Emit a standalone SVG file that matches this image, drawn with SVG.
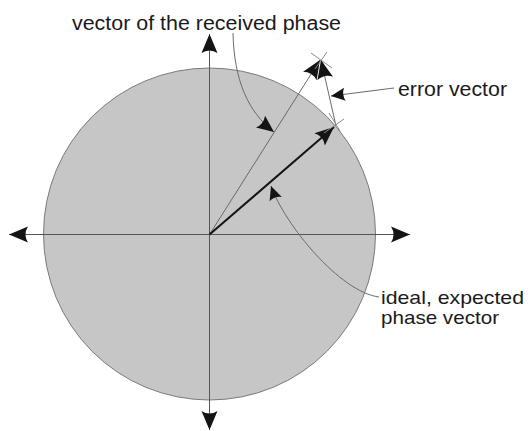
<svg xmlns="http://www.w3.org/2000/svg" width="528" height="431" viewBox="0 0 528 431">
<style>
.lbl{font-family:"Liberation Sans",Arial,sans-serif;font-size:20px;fill:#1a1a1a}
.lbl2{font-family:"Liberation Sans",Arial,sans-serif;font-size:19px;fill:#1a1a1a}
.axis{stroke:#555;stroke-width:1;fill:none}
.thin{stroke:#6a6a6a;stroke-width:1;fill:none}
.cross{stroke:#8a8a8a;stroke-width:1;fill:none}
</style>
<defs>
<marker id="ah" markerUnits="userSpaceOnUse" viewBox="-20 -10 22 20" markerWidth="22" markerHeight="20" refX="0" refY="0" orient="auto-start-reverse" overflow="visible">
<path d="M0,0 L-19,-8 Q-14,0 -19,8 Z" fill="#141414"/>
</marker>
<marker id="ahs" markerUnits="userSpaceOnUse" viewBox="-20 -10 22 20" markerWidth="22" markerHeight="20" refX="0" refY="0" orient="auto" overflow="visible">
<path d="M0,0 L-17,-7.5 Q-13,0 -17,7.5 Z" fill="#141414"/>
</marker>
<marker id="ahm" markerUnits="userSpaceOnUse" viewBox="-20 -10 22 20" markerWidth="22" markerHeight="20" refX="0" refY="0" orient="auto" overflow="visible">
<path d="M0,0 L-14,-6.5 Q-10.5,0 -14,6.5 Z" fill="#141414"/>
</marker>
</defs>
<g id="circle">
<circle cx="209.5" cy="234" r="166" fill="#c6c6c6" stroke="#7a7a7a" stroke-width="1"/>
</g>
<g id="connectors">
<line class="axis" x1="9" y1="234.5" x2="410" y2="234.5" marker-start="url(#ah)" marker-end="url(#ah)"/>
<line class="axis" x1="209.5" y1="34" x2="209.5" y2="430" marker-start="url(#ah)" marker-end="url(#ah)"/>
<line class="thin" x1="209.5" y1="234.5" x2="320" y2="60" marker-end="url(#ah)"/>
<line x1="209.5" y1="234.5" x2="334" y2="127" stroke="#141414" stroke-width="2" marker-end="url(#ah)"/>
<line class="thin" x1="336" y1="126" x2="321" y2="60" marker-end="url(#ah)"/>
<path class="thin" d="M233,33 C234,80 248,112 274,132" marker-end="url(#ahs)"/>
<path class="thin" d="M379,297 C340,292 285,225 271,186" marker-end="url(#ahm)"/>
<line class="thin" x1="394" y1="88" x2="331" y2="96" marker-end="url(#ahm)"/>
</g>
<g id="crosses">
<line class="cross" x1="311" y1="53" x2="332" y2="68"/>
<line class="cross" x1="327" y1="52" x2="315" y2="69"/>
<line class="cross" x1="329" y1="113" x2="340" y2="131"/>
<line class="cross" x1="344" y1="119" x2="324" y2="133"/>
</g>
<g id="label-received">
<text class="lbl" x="72" y="30" textLength="269" lengthAdjust="spacingAndGlyphs">vector of the received phase</text>
</g>
<g id="label-error">
<text class="lbl" x="398" y="96" textLength="109" lengthAdjust="spacingAndGlyphs">error vector</text>
</g>
<g id="label-ideal">
<text class="lbl2" x="381" y="304" textLength="143" lengthAdjust="spacingAndGlyphs">ideal, expected</text>
<text class="lbl2" x="381" y="324" textLength="118" lengthAdjust="spacingAndGlyphs">phase vector</text>
</g>
</svg>
